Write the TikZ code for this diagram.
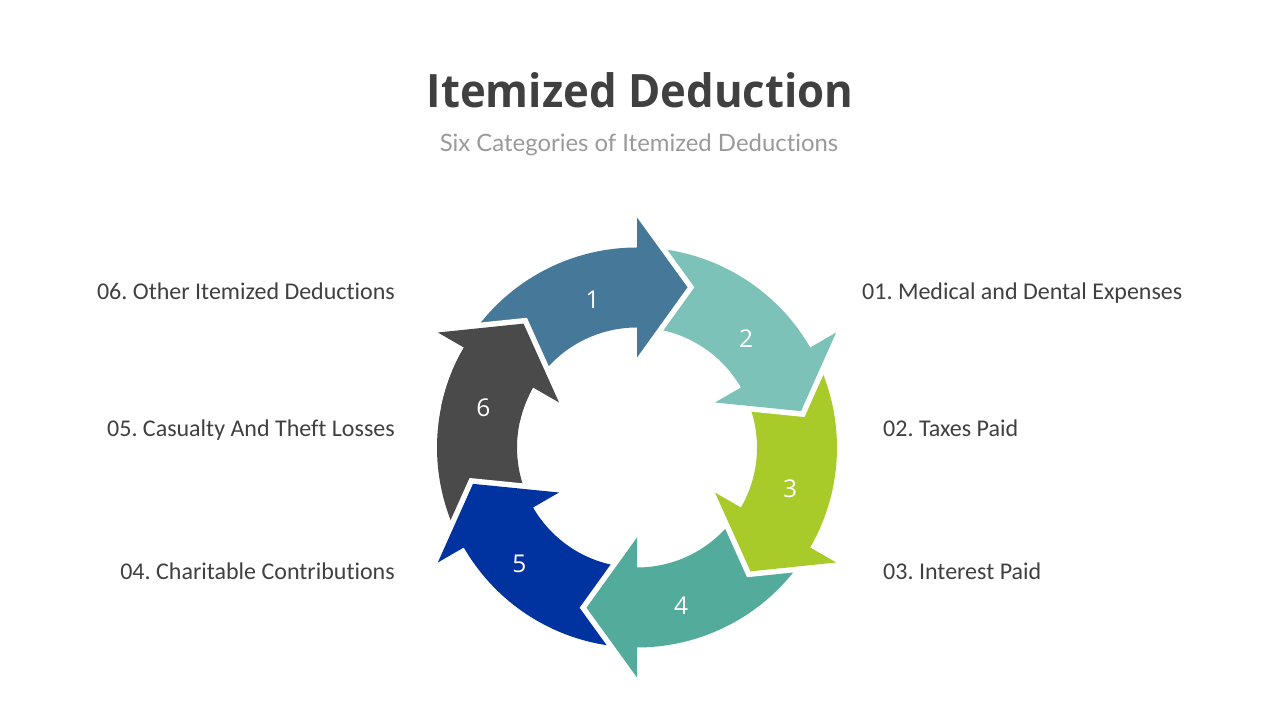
\documentclass[tikz,border=0pt]{standalone}
\usepackage{fontspec}
\setmainfont{Carlito}[Ligatures=NoCommon]
\newfontfamily\titlefont{Open Sans}[FakeStretch=0.95]
\newfontfamily\numfont{Open Sans}
\newfontfamily\subfont{Lato}[Ligatures=NoCommon]
\frenchspacing
\definecolor{cone}{HTML}{46789A}
\definecolor{ctwo}{HTML}{7DC2B8}
\definecolor{cthree}{HTML}{A8CB2A}
\definecolor{cfour}{HTML}{52AB9B}
\definecolor{cfive}{HTML}{0033A0}
\definecolor{csix}{HTML}{4A4A4A}
\definecolor{txt}{HTML}{404040}
\definecolor{subgray}{HTML}{9A9A9A}
\newcommand\arrowshape[1]{(#1+59:200) arc[start angle=#1+59, end angle=#1, radius=200] -- (#1:230) -- (#1-17.5:168) -- (#1:90) -- (#1:120) arc[start angle=#1, end angle=#1+59, radius=120] -- cycle}
\newcommand\arrowgap[1]{\draw[white,line width=11pt,line join=miter] \arrowshape{#1};}
\newcommand\arrowfill[2]{\fill[#2] \arrowshape{#1};}
\newcommand\ringarrow[2]{\arrowgap{#1}\arrowfill{#1}{#2}}
\tikzset{
  lbl/.style={font=\fontsize{24}{28}\selectfont, text=txt, inner sep=0pt},
  num/.style={font=\numfont\fontsize{24.5}{28}\selectfont, text=white, inner sep=0pt}
}
\begin{document}
\frenchspacing
\begin{tikzpicture}[x=1pt,y=1pt]
\useasboundingbox (0,0) rectangle (1280,720);
\fill[white] (0,0) rectangle (1280,720);
\node[font=\titlefont\bfseries\fontsize{46}{54}\selectfont, text=txt, anchor=base, inner sep=0pt] (title) at (640,612) {Itemized Deduction};
\node[font=\subfont\fontsize{23.9}{28}\selectfont, text=subgray, anchor=base, inner sep=0pt] (subtitle) at (639,568) {Six Categories of Itemized Deductions};
\begin{scope}[shift={(637,272.5)}]
  \ringarrow{150}{csix}
  \ringarrow{210}{cfive}
  \ringarrow{270}{cfour}
  \ringarrow{330}{cthree}
  \ringarrow{30}{ctwo}
  \ringarrow{90}{cone}
  \begin{scope}
    \clip (0,0) -- (118:300) arc[start angle=118, end angle=152, radius=300] -- cycle;
    \arrowgap{150}
  \end{scope}
  \begin{scope}
    \clip (0,0) -- (118:300) arc[start angle=118, end angle=168, radius=300] -- cycle;
    \arrowfill{150}{csix}
  \end{scope}
\end{scope}
\node[num] (n1) at (592.7,420.7) {1};
\node[num] (n2) at (746,381.7) {2};
\node[num] (n3) at (790,231.7) {3};
\node[num] (n4) at (681,114) {4};
\node[num] (n5) at (519.3,156) {5};
\node[num] (n6) at (483.3,312.7) {6};
\node[lbl, anchor=base west] (l1) at (862,420) {01. Medical and Dental Expenses};
\node[lbl, anchor=base west] (l2) at (883,283) {02. Taxes Paid};
\node[lbl, anchor=base west] (l3) at (883,140) {03. Interest Paid};
\node[lbl, anchor=base east] (l6) at (395,420) {06. Other Itemized Deductions};
\node[lbl, anchor=base east] (l5) at (395,283) {05. Casualty And Theft Losses};
\node[lbl, anchor=base east] (l4) at (395,140) {04. Charitable Contributions};
\end{tikzpicture}
\end{document}
